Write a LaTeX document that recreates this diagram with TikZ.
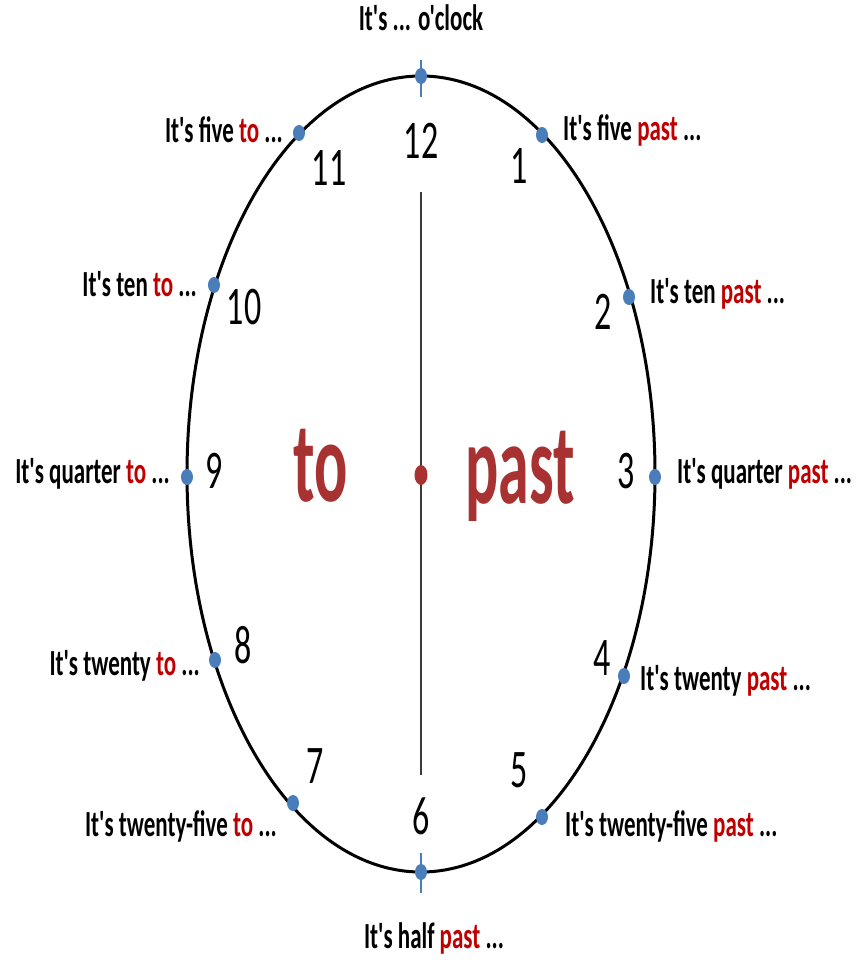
\documentclass[tikz,border=0pt]{standalone}
\usepackage{fontspec}
\setmainfont{Carlito}[Ligatures=TeXOff]
\usetikzlibrary{shapes.geometric}
\definecolor{dotblue}{HTML}{4A7EBB}
\definecolor{labred}{HTML}{C00000}
\definecolor{bigred}{HTML}{A83232}
\definecolor{linegray}{HTML}{3A3A3A}
\newcommand{\tallbox}[1]{\scalebox{1}[1.6]{#1}}
\newcommand{\bigtall}[1]{\scalebox{1}[1.85]{#1}}
\newcommand{\rd}[1]{\textcolor{labred}{#1}}
\begin{document}
\begin{tikzpicture}[x=1pt,y=-1pt,
  lbl/.style={inner sep=0pt, font=\fontsize{23}{23}\selectfont\bfseries},
  num/.style={inner sep=0pt, font=\fontsize{34}{34}\selectfont},
  bigword/.style={inner sep=0pt, text=bigred, font=\fontsize{62}{62}\selectfont\bfseries},
  bdot/.style={ellipse, fill=dotblue, inner sep=0pt, minimum width=12pt, minimum height=16pt},
  rdot/.style={ellipse, fill=bigred, inner sep=0pt, minimum width=13pt, minimum height=20pt},
  tick/.style={dotblue, line width=2pt},
  hand/.style={linegray, line width=1.5pt}]
\useasboundingbox (0,0) rectangle (858,960);
\fill[white] (0,0) rectangle (858,960);
% clock face
\node[draw, ellipse, line width=3pt, minimum width=468pt, minimum height=796pt, inner sep=0pt] (clock) at (421,474) {};
% central line
\coordinate (htop) at (421,192);
\coordinate (hbot) at (421,775);
\draw[hand] (htop) -- (hbot);
% ticks at 12 and 6
\coordinate (t12a) at (421,60);
\coordinate (t12b) at (421,97);
\coordinate (t6a) at (421,853);
\coordinate (t6b) at (421,893);
\draw[tick] (t12a) -- (t12b);
\draw[tick] (t6a) -- (t6b);
% dots
\node[bdot] (d12) at (421,76) {};
\node[bdot] (d1) at (542,135) {};
\node[bdot] (d2) at (629,297) {};
\node[bdot] (d3) at (655,477) {};
\node[bdot] (d4) at (624,676) {};
\node[bdot] (d5) at (542,817) {};
\node[bdot] (d6) at (421,872) {};
\node[bdot] (d7) at (293,803) {};
\node[bdot] (d8) at (215,660) {};
\node[bdot] (d9) at (187,477) {};
\node[bdot] (d10) at (214,285) {};
\node[bdot] (d11) at (299,133) {};
\node[rdot] (ctr) at (421,475) {};
% numbers
\node[num] (n12) at (421,141) {\tallbox{12}};
\node[num] (n1) at (519,166) {\tallbox{1}};
\node[num] (n2) at (603,312) {\tallbox{2}};
\node[num] (n3) at (626,471) {\tallbox{3}};
\node[num] (n4) at (602,658) {\tallbox{4}};
\node[num] (n5) at (519,770) {\tallbox{5}};
\node[num] (n6) at (421,816) {\tallbox{6}};
\node[num] (n7) at (315,766) {\tallbox{7}};
\node[num] (n8) at (243,645) {\tallbox{8}};
\node[num] (n9) at (214,471) {\tallbox{9}};
\node[num] (n10) at (244,307) {\tallbox{10}};
\node[num] (n11) at (329,168) {\tallbox{11}};
% big words
\node[bigword] (to) at (321,466) {\bigtall{to}};
\node[bigword] (past) at (520,476) {\bigtall{past}};
% labels
\node[lbl] (l12) at (421,18) {\tallbox{It's ... o'clock}};
\node[lbl, anchor=west] (l1) at (563,130) {\tallbox{It's five \rd{past} ...}};
\node[lbl, anchor=east] (l11) at (283,130) {\tallbox{It's five \rd{to} ...}};
\node[lbl, anchor=west] (l2) at (650,294) {\tallbox{It's ten \rd{past} ...}};
\node[lbl, anchor=east] (l10) at (197,284) {\tallbox{It's ten \rd{to} ...}};
\node[lbl, anchor=west] (l3) at (677,474) {\tallbox{It's quarter \rd{past} ...}};
\node[lbl, anchor=east] (l9) at (170,474) {\tallbox{It's quarter \rd{to} ...}};
\node[lbl, anchor=west] (l4) at (640,681) {\tallbox{It's twenty \rd{past} ...}};
\node[lbl, anchor=east] (l8) at (200,666) {\tallbox{It's twenty \rd{to} ...}};
\node[lbl, anchor=west] (l5) at (565,826) {\tallbox{It's twenty-five \rd{past} ...}};
\node[lbl, anchor=east] (l7) at (277,826) {\tallbox{It's twenty-five \rd{to} ...}};
\node[lbl] (l6) at (434,938) {\tallbox{It's half \rd{past} ...}};
\end{tikzpicture}
\end{document}
